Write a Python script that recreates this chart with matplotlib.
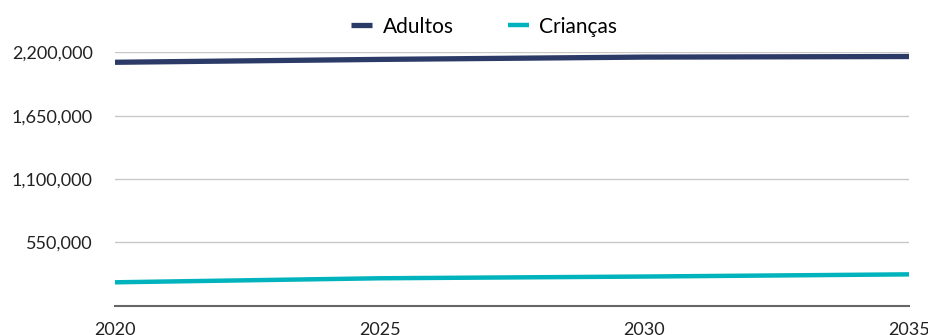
import matplotlib.pyplot as plt
from matplotlib.ticker import FuncFormatter

# Dados
anos = [2020, 2025, 2030, 2035]
adultos = [2115000, 2140000, 2160000, 2165000]
criancas = [204000, 239000, 254000, 273000]
y_ticks = [550000, 1100000, 1650000, 2200000]
x_ticks = [2020, 2025, 2030, 2035]

plt.rcParams['font.family'] = ['Lato', 'DejaVu Sans']

fig = plt.figure(figsize=(9.29, 3.35), dpi=100)
ax = fig.add_axes([0.1238, 0.0872, 0.8547, 0.7561])

ax.plot(anos, adultos, color='#2b3a67', linewidth=3.8, label='Adultos', solid_capstyle='butt')
ax.plot(anos, criancas, color='#00b3bd', linewidth=3.2, label='Crianças', solid_capstyle='butt')

ax.set_xlim(2020, 2035)
ax.set_ylim(0, 2200000)
ax.set_yticks(y_ticks)
ax.set_xticks(x_ticks)
ax.yaxis.set_major_formatter(FuncFormatter(lambda v, p: f'{int(v):,}'))

ax.grid(axis='y', color='#c8c8c8', linewidth=1)
ax.set_axisbelow(True)
for s in ['top', 'right', 'left']:
    ax.spines[s].set_visible(False)
ax.spines['bottom'].set_color('#666666')
ax.spines['bottom'].set_linewidth(1.5)
ax.tick_params(axis='both', length=0, labelsize=13, colors='#222222')
ax.tick_params(axis='y', pad=16)
ax.tick_params(axis='x', pad=12)

ax.legend(loc='upper center', bbox_to_anchor=(0.465, 1.215), ncol=2, frameon=False,
          fontsize=15, handlelength=1.0, columnspacing=2.6, handletextpad=0.5)

fig.savefig('out.png', dpi=100)
